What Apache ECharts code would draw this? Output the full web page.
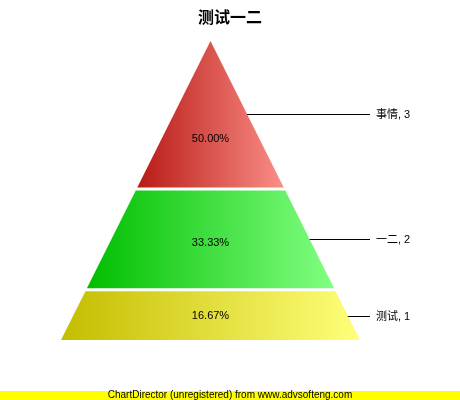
<!DOCTYPE html>
<html>
<head>
<meta charset="utf-8">
<script src="https://cdn.jsdelivr.net/npm/echarts@6/dist/echarts.min.js"></script>
<style>
html,body{margin:0;padding:0;background:#fff;}
#chart{width:460px;height:400px;}
</style>
</head>
<body>
<div id="chart"></div>
<script>
// Layers listed from top of pyramid to bottom
var categories = ['事情', '一二', '测试'];
var values = [3, 2, 1];
var leftColors = ['#b81a15', '#00be00', '#c4bd00'];
var rightColors = ['#fb8e87', '#82ff82', '#ffff7a'];
var titleText = '测试一二';
var footerText = 'ChartDirector (unregistered) from www.advsofteng.com';

var total = values.reduce(function (a, b) { return a + b; }, 0);
var cum = [];
var acc = 0;
for (var i = 0; i < values.length; i++) { cum.push(acc); acc += values[i]; }

var seriesData = values.map(function (v, i) { return [i, v, cum[i]]; });

var FONT = '"Liberation Sans", "Noto Sans CJK SC", sans-serif';
var GAP = 3;

function renderItem(params, api) {
  var idx = api.value(0);
  var v = api.value(1);
  var c0 = api.value(2);
  var n = values.length;
  var apex = api.coord([0, 0]);
  var baseR = api.coord([1, total]);
  var top = apex[1];
  var H = baseR[1] - top;
  var cx = apex[0];
  var halfBase = baseR[0] - cx;
  var avail = H - GAP * (n - 1);
  var y0 = top + c0 / total * avail + idx * GAP;
  var y1 = y0 + v / total * avail;
  function hw(y) { return (y - top) / H * halfBase; }
  var w0 = hw(y0), w1 = hw(y1);
  var pts = [[cx - w0, y0], [cx + w0, y0], [cx + w1, y1], [cx - w1, y1]];
  // centroid of trapezoid (for centre label)
  var a = 2 * w0, b = 2 * w1, h = y1 - y0;
  var fromBottom = h * (2 * a + b) / (3 * (a + b));
  var cy = y1 - fromBottom;
  var my = (y0 + y1) / 2;
  var edgeX = cx + hw(my);
  var pct = (v / total * 100).toFixed(2) + '%';
  return {
    type: 'group',
    children: [
      {
        type: 'polygon',
        shape: { points: pts },
        style: {
          fill: new echarts.graphic.LinearGradient(0, 0, 1, 0, [
            { offset: 0, color: leftColors[idx] },
            { offset: 1, color: rightColors[idx] }
          ])
        }
      },
      {
        type: 'text',
        style: {
          x: cx, y: cy, text: pct, fill: '#000',
          font: '11px ' + FONT, align: 'center', verticalAlign: 'middle'
        }
      },
      {
        type: 'line',
        shape: { x1: edgeX, y1: Math.round(my) + 0.5, x2: 370, y2: Math.round(my) + 0.5 },
        style: { stroke: '#000', lineWidth: 1 }
      },
      {
        type: 'text',
        style: {
          x: 376, y: my + 1, text: categories[idx] + ', ' + v, fill: '#000',
          font: '11px ' + FONT, align: 'left', verticalAlign: 'middle'
        }
      }
    ]
  };
}

var chart = echarts.init(document.getElementById('chart'), null, { renderer: 'canvas' });
chart.setOption({
  animation: false,
  backgroundColor: '#ffffff',
  title: {
    text: titleText,
    left: 'center',
    top: 4,
    textStyle: { fontFamily: '"Noto Sans CJK SC", sans-serif', fontSize: 16, fontWeight: 'bold', color: '#000' }
  },
  grid: { left: 61, right: 100, top: 41, bottom: 60 },
  xAxis: { type: 'value', min: -1, max: 1, show: false },
  yAxis: { type: 'value', min: 0, max: total, inverse: true, show: false },
  series: [{
    type: 'custom',
    renderItem: renderItem,
    data: seriesData,
    encode: { x: -1, y: 2 },
    silent: true
  }],
  graphic: [
    { type: 'rect', shape: { x: 0, y: 391, width: 460, height: 9 }, style: { fill: '#ffff00' } },
    { type: 'text', style: { x: 230, y: 395.5, text: footerText, fill: '#000', font: '10px ' + FONT, align: 'center', verticalAlign: 'middle' } }
  ]
});
</script>
</body>
</html>
